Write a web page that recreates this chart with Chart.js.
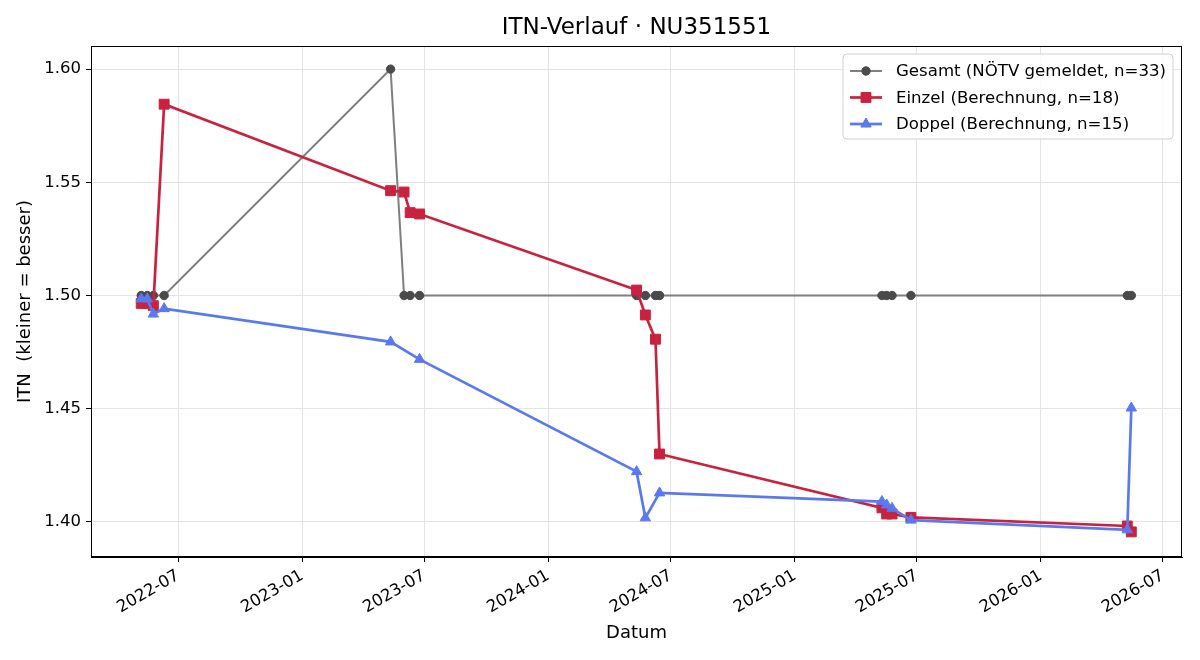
<!DOCTYPE html>
<html><head><meta charset="utf-8">
<script src="https://cdn.jsdelivr.net/npm/chart.js@4.4.1/dist/chart.umd.min.js"></script>
<style>html,body{margin:0;padding:0;background:#fff;}#wrap{width:1200px;height:660px;}</style>
</head><body><div id="wrap"><canvas id="c" width="1200" height="660"></canvas></div>
<script>
// ---- data ----
const gesamtDates = ['2022-05-07','2022-05-16','2022-05-25','2022-06-10','2023-05-12','2023-06-01','2023-06-10','2023-06-24','2024-05-11','2024-05-24','2024-06-08','2024-06-14','2025-05-10','2025-05-17','2025-05-25','2025-06-22','2026-05-09','2026-05-15'];
const gesamtValues = [1.50,1.50,1.50,1.50,1.60,1.50,1.50,1.50,1.50,1.50,1.50,1.50,1.50,1.50,1.50,1.50,1.50,1.50];
const einzelDates = ['2022-05-07','2022-05-16','2022-05-25','2022-06-10','2023-05-12','2023-06-01','2023-06-10','2023-06-24','2024-05-11','2024-05-24','2024-06-08','2024-06-14','2025-05-10','2025-05-17','2025-05-25','2025-06-22','2026-05-09','2026-05-15'];
const einzelValues = [1.4965,1.4965,1.4955,1.5845,1.5463,1.5457,1.5366,1.5360,1.5024,1.4914,1.4807,1.4300,1.4062,1.4035,1.4035,1.4020,1.3982,1.3956];
const doppelDates = ['2022-05-07','2022-05-16','2022-05-25','2022-06-10','2023-05-12','2023-06-24','2024-05-11','2024-05-24','2024-06-14','2025-05-10','2025-05-17','2025-05-25','2025-06-22','2026-05-09','2026-05-15'];
const doppelValues = [1.4985,1.4985,1.4918,1.4942,1.4795,1.4718,1.4222,1.4018,1.4128,1.4090,1.4075,1.4060,1.4008,1.3965,1.4503];
const tickDates = ['2022-07-01','2023-01-01','2023-07-01','2024-01-01','2024-07-01','2025-01-01','2025-07-01','2026-01-01','2026-07-01'];
const tickLabels = ['2022-07','2023-01','2023-07','2024-01','2024-07','2025-01','2025-07','2026-01','2026-07'];
const yTicks = [1.40,1.45,1.50,1.55,1.60];
const seriesNames = ['Gesamt (NÖTV gemeldet, n=33)','Einzel (Berechnung, n=18)','Doppel (Berechnung, n=15)'];
const chartTitle = 'ITN-Verlauf · NU351551';

const day = s => Date.UTC(+s.slice(0,4), +s.slice(5,7)-1, +s.slice(8,10)) / 86400000;
const pts = (d, v) => d.map((s, i) => ({x: day(s), y: v[i]}));
const tickVals = tickDates.map(day);
const x0 = day('2022-07-01');

const GRAY_LINE = '#7f7f7f', GRAY_PT = '#4a4a4a', RED = '#c9223f', BLUE = '#5a78ef';
const FONT = 'DejaVu Sans';
Chart.defaults.font.family = FONT;
Chart.defaults.color = '#000';

const decorPlugin = {
  id: 'mplDecor',
  afterDraw(chart) {
    const ctx = chart.ctx;
    const ca = chart.chartArea;
    ctx.save();
    // title centred over the axes
    ctx.fillStyle = '#000'; ctx.font = '23px ' + FONT; ctx.textAlign = 'center'; ctx.textBaseline = 'middle';
    ctx.fillText(chartTitle, (ca.left + ca.right) / 2, 28);
    // frame around axes
    ctx.strokeStyle = '#000'; ctx.lineWidth = 1;
    ctx.strokeRect(ca.left + 0.5, ca.top + 0.5, ca.right - ca.left - 1, ca.bottom - ca.top - 1);
    // legend box
    const bx = 843, by = 54, bw = 330, bh = 85, r = 4;
    ctx.beginPath();
    ctx.moveTo(bx + r, by); ctx.lineTo(bx + bw - r, by); ctx.quadraticCurveTo(bx + bw, by, bx + bw, by + r);
    ctx.lineTo(bx + bw, by + bh - r); ctx.quadraticCurveTo(bx + bw, by + bh, bx + bw - r, by + bh);
    ctx.lineTo(bx + r, by + bh); ctx.quadraticCurveTo(bx, by + bh, bx, by + bh - r);
    ctx.lineTo(bx, by + r); ctx.quadraticCurveTo(bx, by, bx + r, by);
    ctx.closePath();
    ctx.fillStyle = 'rgba(255,255,255,0.85)'; ctx.fill();
    ctx.strokeStyle = '#d0d0d0'; ctx.lineWidth = 1; ctx.stroke();
    const rows = [71, 97.5, 124];
    chart.data.datasets.forEach((ds, i) => {
      const y = rows[i];
      ctx.strokeStyle = ds.borderColor; ctx.lineWidth = ds.borderWidth;
      ctx.beginPath(); ctx.moveTo(850, y); ctx.lineTo(882, y); ctx.stroke();
      ctx.fillStyle = ds.pointBackgroundColor; ctx.strokeStyle = ds.pointBorderColor; ctx.lineWidth = 1;
      Chart.helpers.drawPoint(ctx, {pointStyle: ds.pointStyle, radius: ds.pointRadius, rotation: 0, borderWidth: 1}, 866, y);
      ctx.fillStyle = '#000'; ctx.font = '16.6px ' + FONT; ctx.textBaseline = 'middle'; ctx.textAlign = 'left';
      ctx.fillText(seriesNames[i], 896, y + 1);
    });
    ctx.restore();
  }
};

new Chart(document.getElementById('c'), {
  type: 'line',
  data: {
    datasets: [
      {label: seriesNames[0], data: pts(gesamtDates, gesamtValues), borderColor: GRAY_LINE, borderWidth: 2,
       pointStyle: 'circle', pointRadius: 4.2, pointBackgroundColor: GRAY_PT, pointBorderColor: GRAY_PT, pointBorderWidth: 1, order: 3},
      {label: seriesNames[1], data: pts(einzelDates, einzelValues), borderColor: RED, borderWidth: 2.7,
       pointStyle: 'rect', pointRadius: 7, pointBackgroundColor: RED, pointBorderColor: RED, pointBorderWidth: 1, order: 2},
      {label: seriesNames[2], data: pts(doppelDates, doppelValues), borderColor: BLUE, borderWidth: 2.7,
       pointStyle: 'triangle', pointRadius: 6, pointBackgroundColor: BLUE, pointBorderColor: BLUE, pointBorderWidth: 1, order: 1}
    ]
  },
  options: {
    responsive: false, animation: false, devicePixelRatio: 1,
    layout: {padding: {left: 0, right: 18, top: 46, bottom: 0}},
    elements: {line: {tension: 0}},
    plugins: {legend: {display: false}, tooltip: {enabled: false}, title: {display: false}},
    scales: {
      x: {
        type: 'linear', min: x0 - 129.5, max: x0 + 1489.2,
        afterBuildTicks: s => { s.ticks = tickVals.map(v => ({value: v})); },
        afterFit: s => { s.height = 103; },
        ticks: {minRotation: 30, maxRotation: 30, autoSkip: false, padding: 4, font: {size: 16.5},
                callback: (v, i) => tickLabels[i]},
        grid: {color: '#e4e4e4', lineWidth: 1, tickLength: 5, tickColor: '#000', tickWidth: 1},
        border: {display: true, color: '#000', width: 1},
        title: {display: true, text: 'Datum', font: {size: 18}, padding: {top: 16, bottom: 16}}
      },
      y: {
        min: 1.3845, max: 1.6102,
        afterBuildTicks: s => { s.ticks = yTicks.map(v => ({value: v})); },
        afterFit: s => { s.width = 91; },
        ticks: {padding: 5, font: {size: 16.5}, callback: v => v.toFixed(2)},
        grid: {color: '#e4e4e4', lineWidth: 1, tickLength: 5, tickColor: '#000', tickWidth: 1},
        border: {display: true, color: '#000', width: 1},
        title: {display: true, text: 'ITN  (kleiner = besser)', font: {size: 18}, padding: {top: 15, bottom: 15}}
      }
    }
  },
  plugins: [decorPlugin]
});
</script></body></html>
